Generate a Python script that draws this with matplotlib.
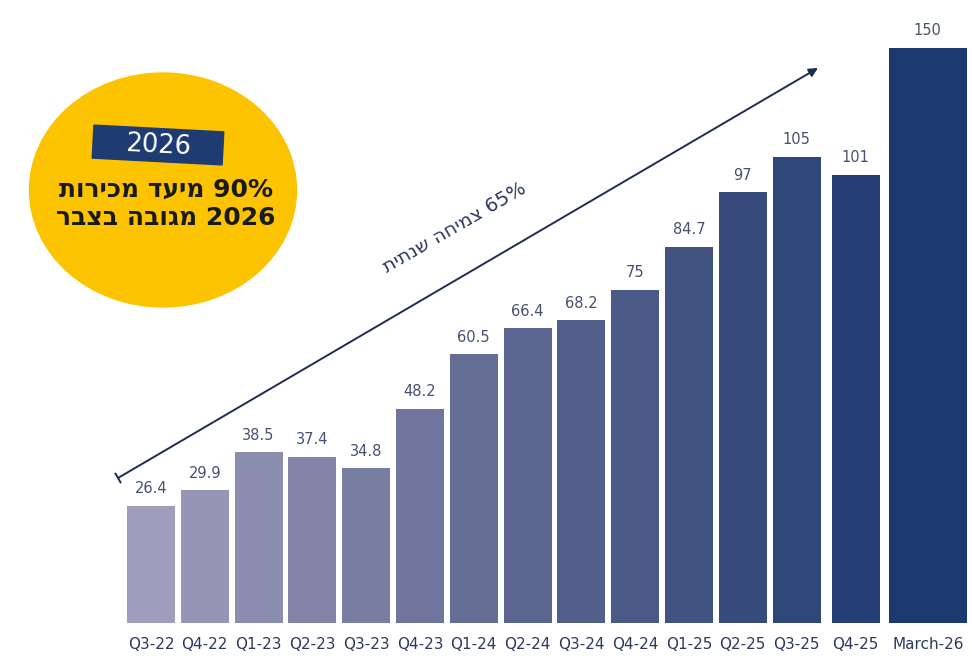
import numpy as np
import matplotlib.pyplot as plt
from matplotlib.patches import Ellipse, Rectangle
from matplotlib.colors import LinearSegmentedColormap

plt.rcParams['font.family'] = ['DejaVu Sans']

quarters = ['Q3-22', 'Q4-22', 'Q1-23', 'Q2-23', 'Q3-23', 'Q4-23', 'Q1-24', 'Q2-24',
            'Q3-24', 'Q4-24', 'Q1-25', 'Q2-25', 'Q3-25', 'Q4-25', 'March-26']
sales = [26.4, 29.9, 38.5, 37.4, 34.8, 48.2, 60.5, 66.4, 68.2, 75, 84.7, 97, 105, 101, 150]
value_labels = ['26.4', '29.9', '38.5', '37.4', '34.8', '48.2', '60.5', '66.4',
                '68.2', '75', '84.7', '97', '105', '101', '150']

badge_year = '2026'
badge_lines = ['90% מיעד מכירות', '2026 מגובה בצבר']
growth_text = '65% צמיחה שנתית'


def rtl(s):
    # matplotlib has no bidi support: lay the words out right-to-left by hand
    out = []
    for w in reversed(s.split(' ')):
        if any('\u0590' <= c <= '\u05ff' for c in w):
            out.append(w[::-1])
        else:
            out.append(w)
    return ' '.join(out)


fig = plt.figure(figsize=(9.72, 6.69), dpi=100)
fig.patch.set_facecolor('white')

# bar axes; bottom at the bar baseline, top where the tallest bar is cut off
ax = fig.add_axes([0, 46 / 669, 1, 575 / 669])
n = len(sales)
x = np.arange(n, dtype=float)
x[13] += 0.1
x[14] += 0.44
widths = np.full(n, 0.89)
widths[14] = 1.45

cmap = LinearSegmentedColormap.from_list('navy', ['#9e9dbb', '#5c658f', '#1c3a6f'])
colors = [cmap(i / (n - 1)) for i in range(n)]

ax.bar(x, sales, width=widths, color=colors, zorder=2)
ax.set_xlim(-151 / 53.8, (972 - 151) / 53.8)
ytop = 129.5
ax.set_ylim(0, ytop)

for xi, v, lab in zip(x, sales, value_labels):
    ax.annotate(lab, (xi, min(v, ytop)), xytext=(0, 9), textcoords='offset points',
                ha='center', va='baseline', fontsize=10.5, color='#465171',
                annotation_clip=False)

ax.set_xticks(x)
ax.set_xticklabels(quarters, fontsize=11, color='#2b3a5e')
ax.tick_params(axis='x', length=0, pad=10)
ax.set_yticks([])
for s in ax.spines.values():
    s.set_visible(False)
ax.patch.set_alpha(0)

# decoration layer in pixel coordinates
deco = fig.add_axes([0, 0, 1, 1], zorder=3)
deco.set_xlim(0, 972)
deco.set_ylim(669, 0)
deco.axis('off')
deco.patch.set_alpha(0)

deco.add_patch(Ellipse((163, 190), 267, 234, color='#fcc400', zorder=1))
deco.add_patch(Rectangle((158 - 65, 145 - 16.5), 130, 33, angle=3,
                         rotation_point='center', color='#1e3c72', zorder=2))
deco.text(158, 146, badge_year, rotation=-3, ha='center', va='center',
          fontsize=18.5, color='white', zorder=3)
deco.text(166, 190, rtl(badge_lines[0]), ha='center', va='center',
          fontsize=18, fontweight='bold', color='#1a1a1a', zorder=3)
deco.text(166, 218, rtl(badge_lines[1]), ha='center', va='center',
          fontsize=18, fontweight='bold', color='#1a1a1a', zorder=3)

# growth arrow
deco.annotate('', xy=(818, 68), xytext=(118, 478),
              arrowprops=dict(arrowstyle='-|>', color='#1f2d52', lw=1.4,
                              mutation_scale=13, shrinkA=0, shrinkB=0))
deco.plot([115.5, 120.5], [473.7, 482.3], color='#1f2d52', lw=1.4)
deco.text(455, 228, rtl(growth_text), rotation=30, rotation_mode='anchor',
          ha='center', va='center', fontsize=14, color='#2b3a5e')

plt.savefig('out.png', dpi=100)
